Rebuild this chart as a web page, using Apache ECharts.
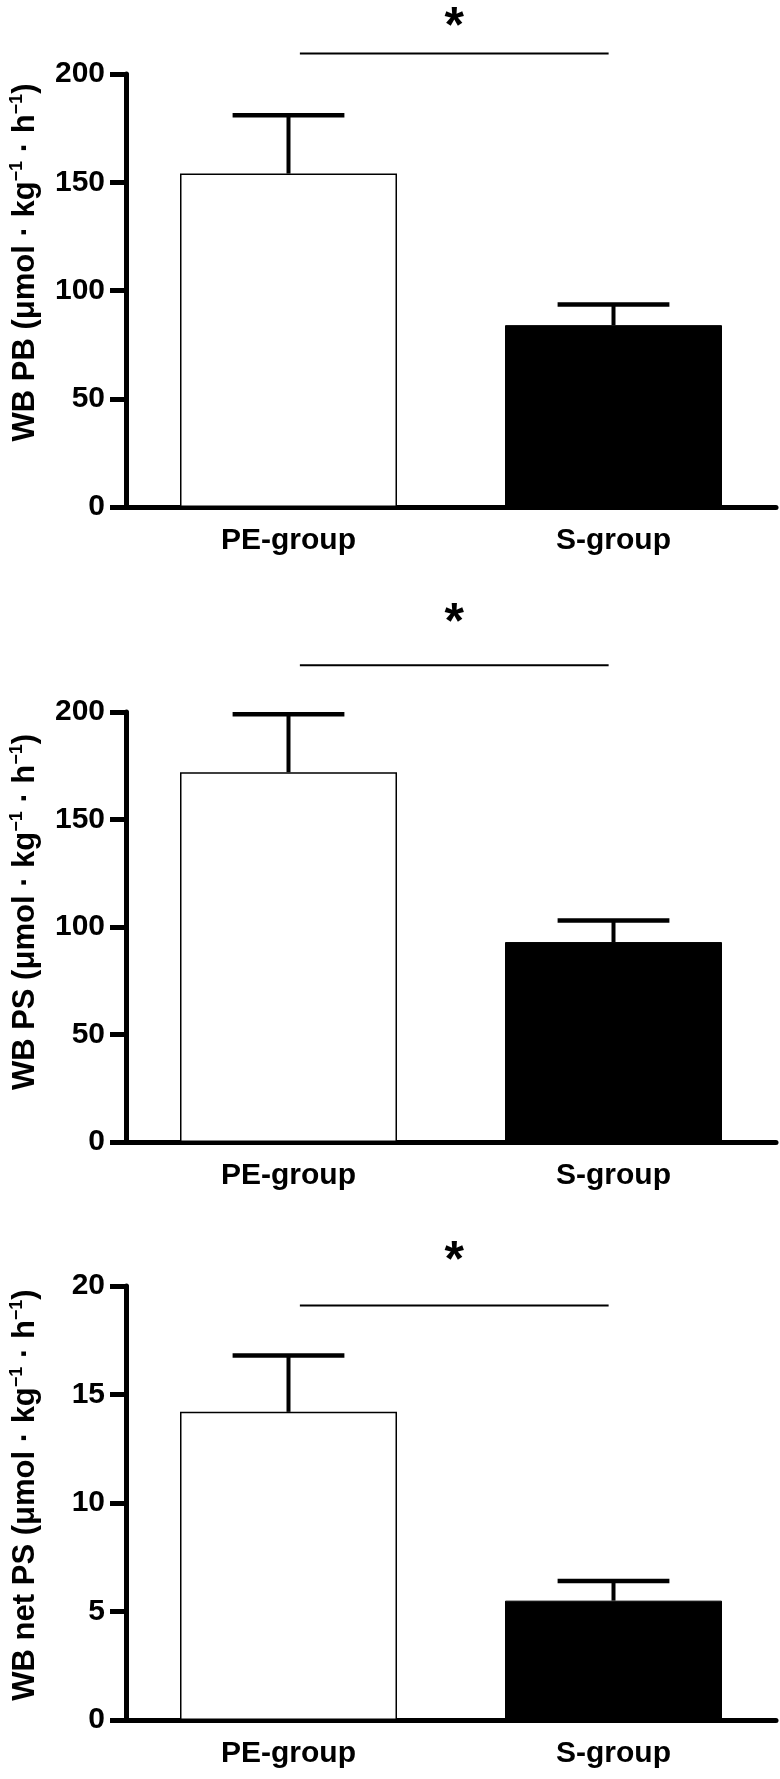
<!DOCTYPE html>
<html>
<head>
<meta charset="utf-8">
<title>WB PB / PS / net PS</title>
<script src="https://cdn.jsdelivr.net/npm/echarts@6/dist/echarts.min.js"></script>
<style>
  html, body { margin: 0; padding: 0; background: #fff; }
  #main { width: 780px; height: 1779px; }
</style>
</head>
<body>
<div id="main"></div>
<script>
// 分组
var categories = ['PE-group', 'S-group'];

// WB PB
var pbMean = [154, 84];
var pbErr = [27, 9.5];
var pbSig = 209.5;   // 显著性横线高度
var pbStar = 221;    // 星号高度

// WB PS
var psMean = [172, 93];
var psErr = [27, 10];
var psSig = 221.7;
var psStar = 241;

// WB net PS
var netMean = [14.2, 5.5];
var netErr = [2.6, 0.9];
var netSig = 19.1;
var netStar = 21.1;

// 刻度
var bigTicks = { min: 0, max: 200, interval: 50 };
var smallTicks = { min: 0, max: 20, interval: 5 };

var font = 'Liberation Sans, Arial, Helvetica, sans-serif';

var chart = echarts.init(document.getElementById('main'), null, { renderer: 'canvas' });

// 纵轴名称 (富文本上标)
function unitName(prefix) {
  return prefix + ' (μmol · kg{sup|−1} · h{sup|−1})';
}

// lift: 名称向上偏移的像素
function makeY(idx, ticks, prefix, lift) {
  return {
    gridIndex: idx,
    type: 'value',
    min: ticks.min,
    max: ticks.max,
    interval: ticks.interval,
    axisLine: { show: true, lineStyle: { color: '#000', width: 5 } },
    axisTick: { show: true, length: 16, lineStyle: { color: '#000', width: 5 } },
    axisLabel: { color: '#000', fontSize: 30, fontWeight: 'bold', fontFamily: font, margin: 21 },
    splitLine: { show: false },
    name: unitName(prefix),
    nameLocation: 'middle',
    nameRotate: 90,
    nameGap: 84,
    nameTextStyle: {
      color: '#000', fontSize: 31, fontWeight: 'bold', fontFamily: font, lineHeight: 34,
      padding: [0, 0, 0, lift * 2],
      rich: {
        sup: { fontSize: 18, fontWeight: 'bold', fontFamily: font, color: '#000', verticalAlign: 'top', lineHeight: 34 }
      }
    }
  };
}

function makeX(idx) {
  return {
    gridIndex: idx,
    type: 'category',
    data: categories,
    axisLine: { show: true, lineStyle: { color: '#000', width: 5 } },
    axisTick: { show: false },
    axisLabel: { color: '#000', fontSize: 30, fontWeight: 'bold', fontFamily: font, margin: 19 },
    splitLine: { show: false }
  };
}

function barSeries(idx, mean) {
  return {
    type: 'bar',
    xAxisIndex: idx,
    yAxisIndex: idx,
    barWidth: 217,
    z: 2,
    data: [
      { value: mean[0], itemStyle: { color: '#fff', borderColor: '#000', borderWidth: 1.5 } },
      { value: mean[1], itemStyle: { color: '#000', borderColor: '#000', borderWidth: 1 } }
    ]
  };
}

// 误差线 (只画上半部分)
function errSeries(idx, mean, err) {
  var d = mean.map(function (m, i) { return [i, m, m + err[i]]; });
  return {
    type: 'custom',
    xAxisIndex: idx,
    yAxisIndex: idx,
    z: 5,
    clip: false,
    data: d,
    renderItem: function (params, api) {
      var lo = api.coord([api.value(0), api.value(1)]);
      var hi = api.coord([api.value(0), api.value(2)]);
      var half = api.size([1, 0])[0] * 0.172;
      return {
        type: 'group',
        children: [
          { type: 'line', shape: { x1: lo[0], y1: lo[1], x2: hi[0], y2: hi[1] }, style: { stroke: '#000', lineWidth: 4 } },
          { type: 'line', shape: { x1: hi[0] - half, y1: hi[1], x2: hi[0] + half, y2: hi[1] }, style: { stroke: '#000', lineWidth: 4.5 } }
        ]
      };
    }
  };
}

// 显著性标记
function sigSeries(idx, sig, star) {
  return {
    type: 'custom',
    xAxisIndex: idx,
    yAxisIndex: idx,
    z: 5,
    clip: false,
    data: [[0, sig, star]],
    renderItem: function (params, api) {
      var band = api.size([1, 0])[0];
      var a = api.coord([0, api.value(1)]);
      var b = api.coord([1, api.value(1)]);
      var x1 = a[0] + band * 0.035;
      var x2 = b[0] - band * 0.015;
      var s = api.coord([0, api.value(2)]);
      return {
        type: 'group',
        children: [
          { type: 'line', shape: { x1: x1, y1: a[1], x2: x2, y2: b[1] }, style: { stroke: '#000', lineWidth: 2 } },
          { type: 'text', x: (x1 + x2) / 2, y: s[1],
            style: { text: '*', fill: '#000', fontSize: 50, fontWeight: 'bold', fontFamily: font, align: 'center', verticalAlign: 'middle' } }
        ]
      };
    }
  };
}

var option = {
  backgroundColor: '#fff',
  animation: false,
  grid: [
    { left: 121, top: 74, width: 655, height: 433 },
    { left: 121, top: 712, width: 655, height: 430 },
    { left: 121, top: 1286, width: 655, height: 434 }
  ],
  xAxis: [makeX(0), makeX(1), makeX(2)],
  yAxis: [
    makeY(0, bigTicks, 'WB PB', 28),
    makeY(1, bigTicks, 'WB PS', 15),
    makeY(2, smallTicks, 'WB net PS', 8)
  ],
  series: [
    barSeries(0, pbMean), errSeries(0, pbMean, pbErr), sigSeries(0, pbSig, pbStar),
    barSeries(1, psMean), errSeries(1, psMean, psErr), sigSeries(1, psSig, psStar),
    barSeries(2, netMean), errSeries(2, netMean, netErr), sigSeries(2, netSig, netStar)
  ]
};

chart.setOption(option);
</script>
</body>
</html>
